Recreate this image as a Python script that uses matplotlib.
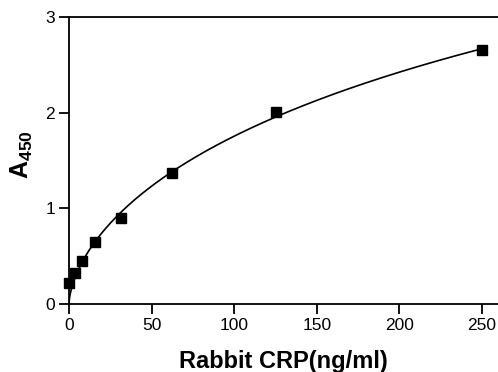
import numpy as np
import matplotlib
matplotlib.use("Agg")
import matplotlib.pyplot as plt

plt.rcParams['font.family'] = ['Liberation Sans', 'DejaVu Sans']
plt.rcParams['mathtext.fontset'] = 'custom'
plt.rcParams['mathtext.rm'] = 'Liberation Sans'
plt.rcParams['mathtext.bf'] = 'Liberation Sans:bold'

conc = [0, 3.9, 7.8, 15.6, 31.25, 62.5, 125, 250]
absorb = [0.22, 0.32, 0.45, 0.65, 0.895, 1.37, 2.01, 2.65]
x_ticks = [0, 50, 100, 150, 200, 250]
y_ticks = [0, 1, 2, 3]

x = np.array(conc, dtype=float)
y = np.array(absorb, dtype=float)

# Hill-type fit with zero baseline: y = d * x^b / (c^b + x^b)
def shape(xx, b, c):
    xx = np.maximum(xx, 0.0)
    return xx ** b / (c ** b + xx ** b)

best = None
for b in np.linspace(0.2, 2.0, 181):
    for c in np.logspace(0, 4, 300):
        g = shape(x, b, c)
        d = np.dot(g, y) / np.dot(g, g)
        r = np.sum((d * g - y) ** 2)
        if best is None or r < best[0]:
            best = (r, b, c, d)
_, b, c, d = best
xf = np.concatenate([np.linspace(0, 2, 200), np.linspace(2, 250, 600)])
yf = d * shape(xf, b, c)

fig = plt.figure(figsize=(4.98, 3.72), dpi=100)
ax = fig.add_axes([69/498, 1 - 304/372, 1 - 69/498, (304 - 17)/372])
ax.plot(xf, yf, color='black', lw=1.2, zorder=2)
ax.plot(x, y, 's', color='black', ms=7, zorder=3, clip_on=False)

ax.set_xlim(0, (498 - 69) / (413 / 250))
ax.set_ylim(0, 3)
ax.set_xticks(x_ticks)
ax.set_yticks(y_ticks)
for s in ['left', 'bottom', 'top']:
    ax.spines[s].set_linewidth(1.3)
ax.spines['right'].set_visible(False)
ax.tick_params(direction='out', length=7, width=1.3, labelsize=12.5, pad=3)
ax.set_xlabel('Rabbit CRP(ng/ml)', fontsize=17, fontweight='bold', labelpad=12)
ax.set_ylabel(r'$\mathbf{A_{450}}$', fontsize=18)
ax.yaxis.set_label_coords(-0.08, 0.52)

fig.savefig('out.png', dpi=100)
